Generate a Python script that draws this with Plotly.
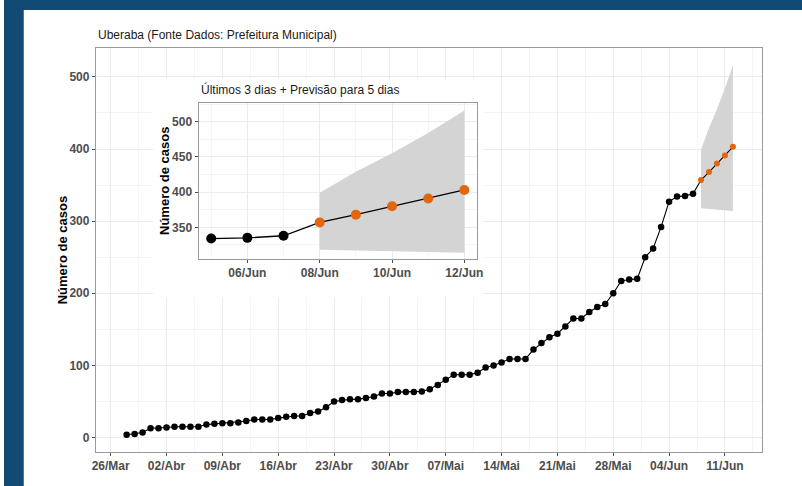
import pandas as pd
import plotly.graph_objects as go

# ---------------- data ----------------
start_date = "2020-03-28"
cases = [4, 5, 7, 13,
         13, 14, 15, 15, 15, 15, 18, 19, 20, 20, 21, 23, 25, 25, 25, 27,
         29, 30, 30, 34, 36, 42, 50, 52, 53, 53, 55, 57, 61, 61,
         63, 63, 63, 64, 67, 73, 80, 87, 87, 87, 90, 97, 100, 104, 109, 109,
         109, 122, 131, 139, 144, 154, 165, 165, 174, 181, 185, 200, 217, 219, 220,
         250, 262, 292, 327, 334, 335, 338]
fc_start = "2020-06-08"
forecast = [357, 368, 380, 391, 403]
fc_upper = [399, 429, 455, 484, 516]
fc_lower = [318, 317, 316, 315, 314]

main_ticks = ["2020-03-26", "2020-04-02", "2020-04-09", "2020-04-16", "2020-04-23",
              "2020-04-30", "2020-05-07", "2020-05-14", "2020-05-21", "2020-05-28",
              "2020-06-04", "2020-06-11"]
main_ticktext = ["26/Mar", "02/Abr", "09/Abr", "16/Abr", "23/Abr", "30/Abr",
                 "07/Mai", "14/Mai", "21/Mai", "28/Mai", "04/Jun", "11/Jun"]
inset_ticks = ["2020-06-06", "2020-06-08", "2020-06-10", "2020-06-12"]
inset_ticktext = ["06/Jun", "08/Jun", "10/Jun", "12/Jun"]

title_main = "Uberaba (Fonte Dados: Prefeitura Municipal)"
title_inset = "Últimos 3 dias + Previsão para 5 dias"
ylabel = "Número de casos"

# ---------------- derived ----------------
obs_dates = pd.date_range(start_date, periods=len(cases), freq="D")
fc_dates = pd.date_range(fc_start, periods=len(forecast), freq="D")
line_x = list(obs_dates) + list(fc_dates)
line_y = cases + forecast
n_last = 3
in_obs_x = list(obs_dates[-n_last:])
in_obs_y = cases[-n_last:]
in_line_x = in_obs_x + list(fc_dates)
in_line_y = in_obs_y + forecast

W, H = 802, 486
BG = "#134A73"
def px(x):
    return x / W
def py(y):
    return 1 - y / H

FONT = "Liberation Sans, Arial, Helvetica, sans-serif"
ORANGE = "#E2650F"
RIBBON = "rgb(212,212,212)"
GRID = "#EBEBEB"
GRID_MINOR = "#F4F4F4"
BORDER = "#9a9a9a"
TICKC = "#4D4D4D"

main_minor = [(pd.Timestamp(a) + pd.Timedelta(hours=84)) for a in main_ticks]
main_minor = [pd.Timestamp(main_ticks[0]) - pd.Timedelta(hours=84)] + main_minor
inset_minor = [pd.Timestamp(a) - pd.Timedelta(days=1) for a in inset_ticks]

fig = go.Figure()

# main subplot
fig.add_trace(go.Scatter(x=list(fc_dates), y=fc_upper, mode="lines", line=dict(width=0),
                         hoverinfo="skip", showlegend=False, xaxis="x", yaxis="y"))
fig.add_trace(go.Scatter(x=list(fc_dates), y=fc_lower, mode="lines", line=dict(width=0),
                         fill="tonexty", fillcolor=RIBBON, hoverinfo="skip",
                         showlegend=False, xaxis="x", yaxis="y"))
fig.add_trace(go.Scatter(x=line_x, y=line_y, mode="lines", line=dict(color="black", width=1.1),
                         showlegend=False, xaxis="x", yaxis="y"))
fig.add_trace(go.Scatter(x=list(obs_dates), y=cases, mode="markers",
                         marker=dict(color="black", size=6.5), showlegend=False,
                         xaxis="x", yaxis="y"))
fig.add_trace(go.Scatter(x=list(fc_dates), y=forecast, mode="markers",
                         marker=dict(color=ORANGE, size=6), showlegend=False,
                         xaxis="x", yaxis="y"))

# white box behind the inset (covers main grid)
fig.add_trace(go.Scatter(x=[0, 1, 1, 0, 0], y=[0, 0, 1, 1, 0], mode="lines",
                         fill="toself", fillcolor="white", line=dict(width=0),
                         hoverinfo="skip", showlegend=False, xaxis="x2", yaxis="y2"))

# inset subplot
fig.add_trace(go.Scatter(x=list(fc_dates), y=fc_upper, mode="lines", line=dict(width=0),
                         hoverinfo="skip", showlegend=False, xaxis="x3", yaxis="y3"))
fig.add_trace(go.Scatter(x=list(fc_dates), y=fc_lower, mode="lines", line=dict(width=0),
                         fill="tonexty", fillcolor=RIBBON, hoverinfo="skip",
                         showlegend=False, xaxis="x3", yaxis="y3"))
fig.add_trace(go.Scatter(x=in_line_x, y=in_line_y, mode="lines",
                         line=dict(color="black", width=1.3), showlegend=False,
                         xaxis="x3", yaxis="y3"))
fig.add_trace(go.Scatter(x=in_obs_x, y=in_obs_y, mode="markers",
                         marker=dict(color="black", size=10), showlegend=False,
                         xaxis="x3", yaxis="y3"))
fig.add_trace(go.Scatter(x=list(fc_dates), y=forecast, mode="markers",
                         marker=dict(color=ORANGE, size=10), showlegend=False,
                         xaxis="x3", yaxis="y3"))

tickfont = dict(family=FONT, size=12, color=TICKC, weight="bold")
common = dict(showline=True, linecolor=BORDER, linewidth=1, mirror=True,
              ticks="outside", ticklen=3, tickcolor=TICKC, tickwidth=1,
              gridcolor=GRID, gridwidth=1, zeroline=False, tickfont=tickfont)

xr_main = [obs_dates[0] - pd.Timedelta(hours=3.86 * 24), fc_dates[-1] + pd.Timedelta(hours=3.7 * 24)]
xr_in = [in_obs_x[0] - pd.Timedelta(hours=0.35 * 24), fc_dates[-1] + pd.Timedelta(hours=0.35 * 24)]

fig.update_layout(
    width=W, height=H, margin=dict(l=0, r=0, t=0, b=0),
    paper_bgcolor="white", plot_bgcolor="white",
    font=dict(family=FONT),
    xaxis=dict(domain=[px(93), px(768)], anchor="y", type="date", range=xr_main,
               tickmode="array", tickvals=main_ticks, ticktext=main_ticktext,
               minor=dict(tickmode="array", tickvals=main_minor, showgrid=True,
                          gridcolor=GRID_MINOR, gridwidth=0.7, ticks=""),
               **common),
    yaxis=dict(domain=[py(452), py(48)], anchor="x", range=[-20, 540],
               tickmode="array", tickvals=[0, 100, 200, 300, 400, 500],
               minor=dict(tickmode="array", tickvals=[50, 150, 250, 350, 450],
                          showgrid=True, gridcolor=GRID_MINOR, gridwidth=0.7, ticks=""),
               **common),
    xaxis2=dict(domain=[px(151), px(485)], anchor="y2", range=[0, 1], visible=False,
                fixedrange=True),
    yaxis2=dict(domain=[py(297), py(79)], anchor="x2", range=[0, 1], visible=False,
                fixedrange=True),
    xaxis3=dict(domain=[px(197), px(479)], anchor="y3", type="date", range=xr_in,
                tickmode="array", tickvals=inset_ticks, ticktext=inset_ticktext,
                minor=dict(tickmode="array", tickvals=inset_minor, showgrid=True,
                           gridcolor=GRID_MINOR, gridwidth=0.7, ticks=""),
                **common),
    yaxis3=dict(domain=[py(259), py(103)], anchor="x3", range=[305, 526.5],
                tickmode="array", tickvals=[350, 400, 450, 500],
                minor=dict(tickmode="array", tickvals=[325, 375, 425, 475, 525],
                           showgrid=True, gridcolor=GRID_MINOR, gridwidth=0.7, ticks=""),
                **common),
    shapes=[
        dict(type="rect", xref="paper", yref="paper", x0=0, x1=px(20),
             y0=0, y1=1, fillcolor=BG, line=dict(width=0), layer="below"),
        dict(type="rect", xref="paper", yref="paper", x0=0, x1=1.02,
             y0=py(10), y1=1, fillcolor=BG, line=dict(width=0), layer="below"),
    ],
    annotations=[
        dict(text=title_main, xref="paper", yref="paper", x=px(93), y=py(35),
             xanchor="left", yanchor="middle", showarrow=False,
             font=dict(family=FONT, size=12, color="#1a1a1a")),
        dict(text=ylabel, xref="paper", yref="paper", x=px(59), y=py(250),
             xanchor="center", yanchor="middle", showarrow=False, textangle=-90,
             font=dict(family=FONT, size=13, color="black", weight="bold")),
        dict(text=title_inset, xref="paper", yref="paper", x=px(197), y=py(90),
             xanchor="left", yanchor="middle", showarrow=False,
             font=dict(family=FONT, size=12, color="#1a1a1a")),
        dict(text=ylabel, xref="paper", yref="paper", x=px(162), y=py(181),
             xanchor="center", yanchor="middle", showarrow=False, textangle=-90,
             font=dict(family=FONT, size=13, color="black", weight="bold")),
    ],
)

fig.write_html(
    "out.html",
    config={"displayModeBar": False},
    post_script=("document.body.style.margin='0';"
                 "document.body.style.background='white';"
                 "document.documentElement.style.overflow='hidden';"
                 "document.body.style.overflow='hidden';"),
)
